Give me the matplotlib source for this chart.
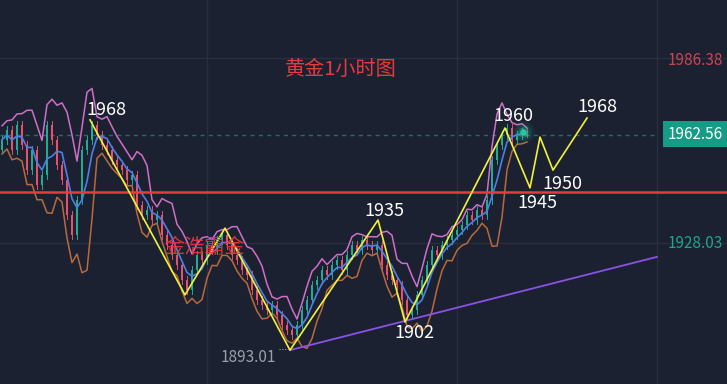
import numpy as np
import pandas as pd
import matplotlib
matplotlib.use("Agg")
import matplotlib.pyplot as plt

plt.rcParams['font.family'] = ['Noto Sans CJK SC', 'DejaVu Sans']

# 1小时收盘价（从图上读取，约每根K线一个值）
closes = [
    1961.1, 1964.3, 1957.9, 1965.9, 1959.5, 1951.4, 1957.9, 1946.6, 1949.8, 1965.9,
    1961.1, 1953.0, 1948.2, 1937.0, 1930.6, 1941.8, 1957.9, 1961.1, 1965.9, 1962.6,
    1959.5, 1957.9, 1954.6, 1953.0, 1951.4, 1948.2, 1949.8, 1940.2, 1937.0, 1938.6,
    1935.4, 1937.0, 1930.6, 1927.4, 1924.2, 1921.0, 1916.2, 1913.0, 1919.4, 1924.2,
    1922.6, 1927.4, 1925.8, 1929.0, 1930.6, 1927.4, 1924.2, 1922.6, 1919.4, 1917.8,
    1913.0, 1909.8, 1908.2, 1906.6, 1908.2, 1905.0, 1901.8, 1900.2, 1898.6, 1901.8,
    1906.6, 1909.8, 1914.6, 1916.2, 1919.4, 1917.8, 1921.0, 1922.6, 1919.4, 1924.2,
    1927.4, 1925.8, 1929.0, 1927.4, 1925.8, 1927.4, 1921.0, 1917.8, 1916.2, 1914.6,
    1909.8, 1905.0, 1906.6, 1911.4, 1916.2, 1921.0, 1925.8, 1924.2, 1927.4, 1929.0,
    1930.6, 1932.2, 1933.8, 1937.0, 1935.4, 1938.6, 1937.0, 1941.8, 1954.6, 1959.5,
    1962.6, 1964.9, 1961.1, 1962.6, 1963.6, 1963.3,
]
first_open = 1958.0

# 黄色波浪线（手绘分析线）
wave_x = [17.6, 36.6, 44.6, 57.6, 75.2, 80.6, 100.6, 105.6, 107.6, 110.2, 117.0]
wave_y = [1967.5, 1911.4, 1932.8, 1893.7, 1935.4, 1902.7, 1964.9, 1945.7, 1962.0, 1951.4, 1968.1]
wave_labels = ["1968", "1935", "1902", "1960", "1968", "1950", "1945"]
wave_label_x = [20.8, 76.4, 82.4, 102.2, 119.0, 112.0, 107.0]
wave_label_y = [1970.7, 1938.3, 1899.2, 1968.8, 1971.6, 1946.9, 1940.9]

trend_x = [57.6, 131.0]
trend_y = [1893.7, 1923.6]
support_level = 1944.5
last_price = 1962.56
high_price = 1986.38
low_label_price = 1928.03
low_price_text = "1893.01"

BG = "#1b2130"
GRID = "#283040"

fig = plt.figure(figsize=(7.27, 3.84), dpi=100, facecolor=BG)
ax = fig.add_axes([0, 0, 1, 1])
ax.set_facecolor(BG)
ax.set_xlim(-0.4, 145.0)
ax.set_ylim(1882.85, 2005.93)
ax.axis("off")

# 网格线
for gx in [41.0, 91.0]:
    ax.axvline(gx, color=GRID, lw=1, zorder=0)
for gy in [1987.3, 1928.0]:
    ax.plot([-0.4, 145.0], [gy, gy], color=GRID, lw=1, zorder=0)
ax.axvline(131.0, color=GRID, lw=1, zorder=0)

# 布林带 / 均线
s = pd.Series(closes)
mid = s.rolling(4, min_periods=1).mean()
sd = s.rolling(4, min_periods=2).std().bfill()
base = s.rolling(4, min_periods=1).mean()
upper = base + 2 * sd
lower = base - 2 * sd
idx = np.arange(len(closes))
ax.plot(idx, upper, color="#cf6fc8", lw=1.1, zorder=2)
ax.plot(idx, lower, color="#b86a3c", lw=1.1, zorder=2)

# K线
opens = [first_open] + closes[:-1]
for i, (o, c) in enumerate(zip(opens, closes)):
    col = "#22ab94" if c >= o else "#e8506e"
    lo, hi = min(o, c), max(o, c)
    ax.bar(i, max(hi - lo, 0.4), bottom=lo, width=0.5, color=col, lw=0, zorder=3)
    ax.plot([i, i], [lo - 1.2, hi + 1.2], color=col, lw=0.7, zorder=3)

ax.plot(idx, mid, color="#4d7fe6", lw=1.2, zorder=4)

# 水平线
ax.plot([-0.4, 145.0], [support_level, support_level], color="#ea3a3f", lw=1.8, zorder=5)
ax.plot([-0.4, 131.0], [last_price, last_price], color="#1f6f66", lw=1, ls=(0, (3, 3)), zorder=1)

# 趋势线和波浪
ax.plot(trend_x, trend_y, color="#8a52e6", lw=1.3, zorder=6)
ax.plot(wave_x, wave_y, color="#f2f23a", lw=1.2, zorder=7)

# 当前价格点
for sz, a in [(260, 0.08), (140, 0.15), (60, 0.3)]:
    ax.scatter(104.2, 1963.6, s=sz, color="#1fbf9a", alpha=a, lw=0, zorder=8)
ax.scatter(104.2, 1963.6, s=22, color="#22c9a0", lw=0, zorder=9)

for t, x, y in zip(wave_labels, wave_label_x, wave_label_y):
    ax.text(x, y, t, color="white", fontsize=13, ha="center", va="center", zorder=10)

ax.text(49.2, 1891.2, low_price_text, color="#9aa0ab", fontsize=11, ha="center", va="center")
ax.plot([55.4, 57.2], [1894.2, 1894.2], color="#9aa0ab", lw=0.8, ls=(0, (1, 1.5)))

ax.text(67.8, 1983.5, "黄金1小时图", color="#e53a40", fontsize=14.5, ha="center", va="center")
ax.text(40.6, 1926.5, "金浩霸金", color="#e8383d", fontsize=14.5, ha="center", va="center",
        alpha=0.9, zorder=11)

# 右侧价格轴
ax.text(138.6, high_price, f"{high_price:.2f}", color="#c8474f", fontsize=11, ha="center", va="center")
ax.text(138.6, low_label_price, f"{low_label_price:.2f}", color="#1fa58a", fontsize=11,
        ha="center", va="center")
ax.text(138.6, last_price + 0.4, f"{last_price:.2f}", color="white", fontsize=11, ha="center",
        va="center", zorder=12,
        bbox=dict(boxstyle="square,pad=0.3", fc="#169c86", ec="none"))

fig.savefig("out.png", dpi=100, facecolor=BG)
